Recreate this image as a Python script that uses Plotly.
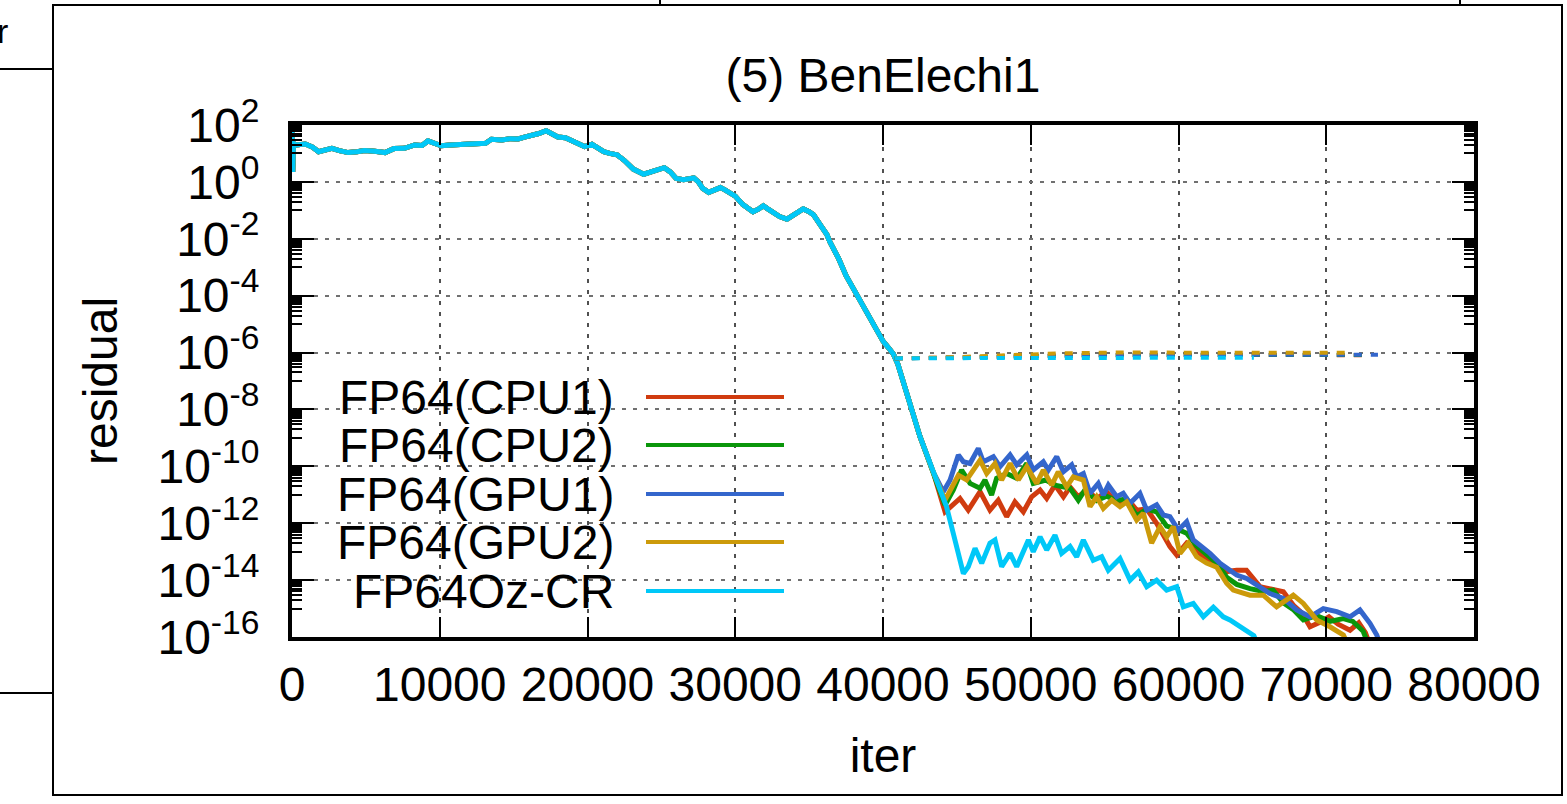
import plotly.graph_objects as go

# ---------------- data ----------------
series_names = ["FP64(CPU1)", "FP64(CPU2)", "FP64(GPU1)", "FP64(GPU2)", "FP64Oz-CR"]
series_colors = ["#D03B0F", "#0A960A", "#3466CC", "#CC9A0A", "#00C8F8"]

x_tick_vals = [0, 10000, 20000, 30000, 40000, 50000, 60000, 70000, 80000]
x_tick_labels = ["0", "10000", "20000", "30000", "40000", "50000", "60000", "70000", "80000"]
y_tick_vals = [1e2, 1e0, 1e-2, 1e-4, 1e-6, 1e-8, 1e-10, 1e-12, 1e-14, 1e-16]
y_tick_labels = ["10<sup>2</sup>", "10<sup>0</sup>", "10<sup>-2</sup>", "10<sup>-4</sup>",
                 "10<sup>-6</sup>", "10<sup>-8</sup>", "10<sup>-10</sup>", "10<sup>-12</sup>",
                 "10<sup>-14</sup>", "10<sup>-16</sup>"]

# shared convergence history (all runs coincide here), log10(residual)
common_iter = [0, 50, 100, 300, 900, 1400, 1800, 2300, 2700, 3200, 3800, 4400, 4900, 5600, 6300,
               6900, 7600, 8300, 8800, 9200, 9700, 10100, 10700, 11300, 12000, 12600, 13100,
               13500, 14200, 14800, 15300, 15800, 16200, 16700, 17200, 17600, 18000, 18500,
               19000, 19500, 19800, 20300, 20700, 21100, 21500, 22000, 22500, 23100, 23800,
               24200, 24700, 25200, 25600, 26000, 26500, 26800, 27200, 27500, 27800, 28200,
               28600, 29000, 29300, 29600, 30000, 30500, 30900, 31200, 31600, 31900, 32200,
               32600, 33000, 33500, 34000, 34600, 35000, 35300, 35800, 36200, 36400, 37000,
               37500, 38100, 38700, 39100, 39600, 40000, 40400, 40700, 41000, 41600, 42000,
               42500, 43000, 43400]
common_log10 = [1.80, 0.35, 1.35, 1.30, 1.33, 1.22, 1.06, 1.12, 1.18, 1.10, 1.03, 1.06, 1.10, 1.08,
                1.03, 1.17, 1.18, 1.30, 1.28, 1.44, 1.35, 1.27, 1.30, 1.32, 1.33, 1.35, 1.36,
                1.50, 1.47, 1.52, 1.51, 1.58, 1.62, 1.70, 1.80, 1.68, 1.58, 1.55, 1.42, 1.30,
                1.24, 1.32, 1.20, 1.06, 1.00, 0.95, 0.75, 0.45, 0.27, 0.33, 0.38, 0.50, 0.35,
                0.12, 0.08, 0.10, 0.14, 0.00, -0.23, -0.37, -0.28, -0.20, -0.28, -0.37, -0.50,
                -0.79, -0.95, -1.05, -0.95, -0.84, -0.95, -1.11, -1.22, -1.31, -1.15, -0.95,
                -1.05, -1.16, -1.55, -1.85, -2.10, -2.70, -3.30, -3.85, -4.40, -4.75, -5.20,
                -5.60, -5.85, -6.05, -6.40, -7.50, -8.10, -8.95, -9.65, -10.20]

cpu1_iter = [44200, 44760, 45210, 45770, 46570, 47240, 47800, 48370, 48930, 49500, 50060, 50630,
             51080, 51640, 52210, 52660, 53220, 53780, 54460, 55130, 55820, 56720, 57170, 57850,
             58520, 59420, 59880, 60550, 61230, 61900, 62590, 63260, 63940, 64600, 65510, 66190,
             67100, 67800, 68380, 68900, 69500, 70180, 70800, 71610, 72200, 72650, 72900]
cpu1_log10 = [-11.60, -11.36, -11.13, -11.54, -10.89, -11.54, -11.19, -11.77, -11.25, -11.60,
              -11.07, -10.83, -11.13, -10.66, -11.07, -10.72, -11.07, -10.83, -11.13, -10.89,
              -11.25, -11.25, -11.54, -11.50, -12.00, -12.82, -13.12, -12.70, -12.95, -13.30,
              -13.50, -13.70, -13.65, -13.65, -14.23, -14.30, -14.41, -14.90, -15.17, -15.64,
              -15.50, -15.29, -15.55, -15.76, -15.50, -15.85, -16.20]

cpu2_iter = [44200, 44760, 45320, 45890, 46570, 46900, 47350, 47690, 48370, 49050, 49730, 50170,
             51020, 51640, 52660, 53220, 53670, 54460, 55130, 55820, 56490, 57170, 57850, 58520,
             59200, 59880, 60550, 61230, 61900, 62590, 63260, 63940, 64840, 65740, 66400, 67100,
             67800, 68450, 69350, 70250, 71160, 71800, 72500, 72800]
cpu2_log10 = [-11.36, -10.83, -10.13, -10.60, -10.77, -10.48, -11.01, -10.42, -10.25, -10.42,
              -9.90, -10.60, -10.48, -10.66, -10.77, -11.19, -10.83, -11.20, -11.05, -11.20,
              -11.15, -11.75, -11.50, -11.60, -12.10, -12.20, -12.35, -12.80, -13.10, -13.40,
              -13.90, -14.15, -14.30, -14.40, -14.35, -14.80, -15.05, -15.40, -15.25, -15.45,
              -15.35, -15.45, -15.80, -16.20]

gpu1_iter = [44080, 44540, 45100, 45440, 45890, 46450, 46790, 47470, 47920, 48600, 49050, 49730,
             50170, 50850, 51190, 51760, 52210, 52770, 53110, 53560, 54010, 54570, 54910, 55250,
             55820, 56260, 56720, 57390, 57850, 58520, 58970, 59420, 59990, 60550, 61000, 61680,
             62130, 62810, 63480, 63940, 64610, 65290, 66190, 67100, 68000, 68900, 69800, 70710,
             71610, 72280, 72960, 73420, 73600]
gpu1_log10 = [-10.89, -10.48, -9.60, -9.84, -9.90, -9.37, -9.84, -9.66, -10.01, -9.60, -9.95,
              -9.60, -10.13, -9.84, -10.13, -9.66, -10.19, -9.95, -10.37, -10.25, -10.95, -10.60,
              -11.01, -10.66, -11.07, -10.95, -11.30, -10.95, -11.54, -11.35, -11.71, -11.77,
              -12.24, -11.95, -12.59, -12.88, -13.06, -13.41, -13.65, -13.82, -13.94, -14.17,
              -14.47, -14.64, -15.05, -15.29, -15.00, -15.11, -15.29, -15.05, -15.52, -15.93,
              -16.20]

gpu2_iter = [44200, 44760, 45100, 45660, 46570, 47020, 47580, 48030, 48600, 49160, 49730, 50400,
             50850, 51420, 51860, 52430, 52880, 53560, 54010, 54460, 54910, 55480, 56040, 56490,
             57170, 57620, 58180, 58750, 59200, 59650, 60100, 60660, 61230, 61900, 62590, 63260,
             63710, 64840, 65740, 66640, 67770, 68450, 69350, 70250, 71160, 71400]
gpu2_log10 = [-11.19, -10.66, -10.31, -10.48, -9.78, -10.25, -9.90, -10.48, -9.90, -10.48,
              -10.01, -10.60, -10.13, -10.66, -10.19, -10.72, -10.37, -10.48, -11.42, -11.07,
              -11.48, -11.19, -11.42, -11.25, -11.89, -11.65, -12.70, -12.12, -12.48, -12.12,
              -13.06, -12.70, -13.18, -13.40, -13.55, -14.11, -14.35, -14.53, -14.53, -14.94,
              -14.53, -14.82, -15.40, -15.64, -15.93, -16.20]

ozcr_iter = [44000, 44300, 44870, 45440, 45770, 46230, 46680, 47240, 47580, 48030, 48600, 49050,
             49840, 50170, 50630, 51080, 51640, 52090, 52660, 53110, 53560, 54230, 54800, 55250,
             56040, 56720, 57280, 57850, 58520, 59200, 59880, 60330, 61000, 61680, 62360, 63030,
             63480, 64160, 64700, 65100, 65300]
ozcr_log10 = [-10.95, -11.42, -12.59, -13.77, -13.53, -12.88, -13.41, -12.70, -12.59, -13.53,
              -13.06, -13.53, -12.59, -13.00, -12.48, -12.94, -12.42, -13.06, -12.82, -13.18,
              -12.59, -13.30, -13.18, -13.65, -13.24, -14.00, -13.71, -14.23, -14.00, -14.35,
              -14.23, -14.94, -14.82, -15.29, -14.95, -15.29, -15.40, -15.64, -15.80, -15.95,
              -16.20]

# dashed curves (plateau of the second residual measure), log10(residual)
cpu1_dash_iter = [40800, 44000, 48000, 52000, 56000, 60000, 64000, 68000, 72800]
cpu1_dash_log10 = [-6.20, -6.19, -6.15, -6.10, -6.09, -6.08, -6.08, -6.08, -6.10]
cpu2_dash_iter = [40800, 44000, 48000, 52000, 56000, 60000, 64000, 68000, 72600]
cpu2_dash_log10 = [-6.20, -6.19, -6.14, -6.10, -6.09, -6.08, -6.08, -6.08, -6.09]
gpu1_dash_iter = [40800, 44000, 48000, 52000, 56000, 60000, 64000, 68000, 73500]
gpu1_dash_log10 = [-6.20, -6.19, -6.14, -6.10, -6.08, -6.08, -6.07, -6.07, -6.08]
gpu2_dash_iter = [40800, 44000, 48000, 52000, 56000, 60000, 64000, 68000, 71300]
gpu2_dash_log10 = [-6.20, -6.18, -6.10, -6.03, -6.00, -6.00, -6.00, -6.00, -6.01]
ozcr_dash_iter = [40800, 44000, 48000, 52000, 56000, 60000, 65100]
ozcr_dash_log10 = [-6.20, -6.20, -6.20, -6.19, -6.19, -6.18, -6.18]

# ---------------- figure ----------------
W, H = 1567, 804
PL, PR, PT, PB = 292, 1474, 125, 637
FONT = "Liberation Sans, Arial, Helvetica, sans-serif"


def px(xp):
    return (xp - PL) / (PR - PL)


def py(yp):
    return (PB - yp) / (PB - PT)


def to_res(vals):
    return [10 ** v for v in vals]


solid = [
    (common_iter + cpu1_iter, common_log10 + cpu1_log10),
    (common_iter + cpu2_iter, common_log10 + cpu2_log10),
    (common_iter + gpu1_iter, common_log10 + gpu1_log10),
    (common_iter + gpu2_iter, common_log10 + gpu2_log10),
    (common_iter + ozcr_iter, common_log10 + ozcr_log10),
]
dashed = [
    (cpu1_dash_iter, cpu1_dash_log10),
    (cpu2_dash_iter, cpu2_dash_log10),
    (gpu1_dash_iter, gpu1_dash_log10),
    (gpu2_dash_iter, gpu2_dash_log10),
    (ozcr_dash_iter, ozcr_dash_log10),
]

fig = go.Figure()
for (xs, ys), name, col in zip(solid, series_names, series_colors):
    fig.add_trace(go.Scatter(x=xs, y=to_res(ys), mode="lines", name=name,
                             line=dict(color=col, width=5), showlegend=False))
for (xs, ys), name, col in zip(dashed, series_names, series_colors):
    fig.add_trace(go.Scatter(x=xs, y=to_res(ys), mode="lines", name=name + " (true)",
                             line=dict(color=col, width=4, dash="8px,9px"), showlegend=False))

minor_vals = [m * 10.0 ** e for e in range(-15, 2, 2) for m in range(1, 10)]

fig.update_layout(
    width=W, height=H,
    margin=dict(l=PL, r=W - PR, t=PT, b=H - PB, autoexpand=False),
    paper_bgcolor="white", plot_bgcolor="white",
    font=dict(family=FONT, size=48, color="black"),
    showlegend=False,
    title=dict(text="(5) BenElechi1", x=px(883), xref="paper", xanchor="center",
               y=1 - 75 / H, yref="container", yanchor="middle",
               font=dict(family=FONT, size=48, color="black")),
)
fig.update_xaxes(
    range=[0, 80000], tickmode="array", tickvals=x_tick_vals, ticktext=x_tick_labels,
    ticks="inside", ticklen=20, tickwidth=2, tickcolor="black",
    showline=True, linewidth=4, linecolor="black", mirror="ticks",
    showgrid=True, gridcolor="#505050", gridwidth=1.5, griddash="4px,7px",
    zeroline=False, ticklabelstandoff=2,
    title=dict(text="iter", standoff=30, font=dict(size=48)),
)
fig.update_yaxes(
    type="log", range=[-16, 2], tickmode="array", tickvals=y_tick_vals, ticktext=y_tick_labels,
    ticks="inside", ticklen=22, tickwidth=2, tickcolor="black",
    showline=True, linewidth=4, linecolor="black", mirror="ticks",
    showgrid=True, gridcolor="#707070", gridwidth=1.5, griddash="4px,7px",
    zeroline=False, ticklabelstandoff=19,
    minor=dict(tickmode="array", tickvals=minor_vals, ticks="inside", ticklen=10,
               tickwidth=2, tickcolor="black", showgrid=False),
    title=dict(text="residual", standoff=26, font=dict(size=48)),
)

shapes = []
# opaque key background (hides the grid behind the key, as in the original)
shapes.append(dict(type="rect", xref="paper", yref="paper", x0=px(294), x1=px(812),
                   y0=py(616), y1=py(372), fillcolor="white", line=dict(width=0),
                   layer="between"))
annotations = []
key_y = [397, 445, 494, 542, 591]
for name, col, yy in zip(series_names, series_colors, key_y):
    annotations.append(dict(text=name, x=px(616), y=py(yy), xref="paper", yref="paper",
                            xanchor="right", yanchor="middle", showarrow=False,
                            font=dict(family=FONT, size=48, color="black")))
    shapes.append(dict(type="line", xref="paper", yref="paper", x0=px(646), x1=px(784),
                       y0=py(yy), y1=py(yy), line=dict(color=col, width=4), layer="above"))

# surrounding panel frame of the original figure page
frame_line = dict(color="black", width=2)
shapes.append(dict(type="rect", xref="paper", yref="paper", x0=px(53), x1=px(1562),
                   y0=py(795), y1=py(5), line=frame_line, fillcolor="rgba(0,0,0,0)",
                   layer="above"))
for (a, b, c, d) in [(0, 69, 53, 69), (0, 693, 53, 693), (660, 0, 660, 5), (1460, 0, 1460, 5)]:
    shapes.append(dict(type="line", xref="paper", yref="paper", x0=px(a), x1=px(c),
                       y0=py(b), y1=py(d), line=frame_line, layer="above"))
annotations.append(dict(text="r", x=px(10), y=py(31), xref="paper", yref="paper",
                        xanchor="right", yanchor="middle", showarrow=False,
                        font=dict(family=FONT, size=34, color="black")))

fig.update_layout(shapes=shapes, annotations=annotations)
fig.write_html("out.html",
               config={"displayModeBar": False},
               post_script="document.body.style.margin='0px';"
                           "document.body.style.overflow='hidden';")
